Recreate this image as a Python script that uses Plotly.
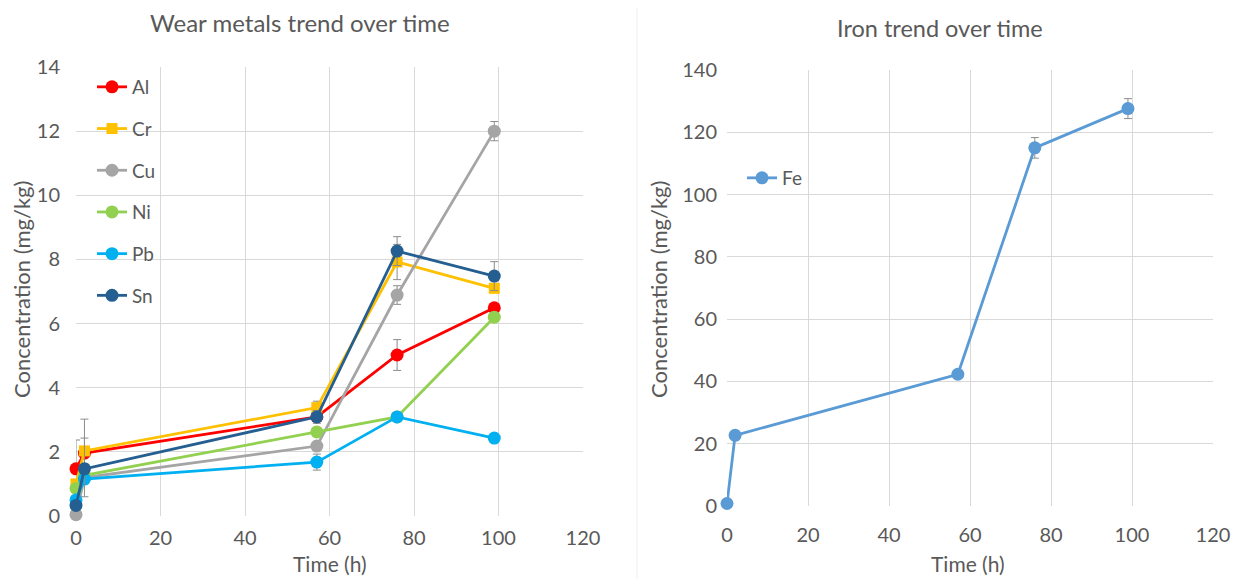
import plotly.graph_objects as go

# ---- data ----
time_h = [0, 2, 57, 76, 99]
metals = ["Al", "Cr", "Cu", "Ni", "Pb", "Sn"]
al = [1.47, 1.96, 3.09, 5.02, 6.49]
cr = [1.0, 2.03, 3.38, 7.92, 7.10]
cu = [0.04, 1.20, 2.18, 6.89, 12.0]
ni = [0.86, 1.27, 2.62, 3.09, 6.20]
pb = [0.50, 1.15, 1.68, 3.09, 2.43]
sn = [0.33, 1.47, 3.09, 8.26, 7.48]
al_err = [0.9, 0.0, 0.0, 0.48, 0.0]
cr_err = [0.0, 0.4, 0.2, 0.55, 0.0]
cu_err = [0.0, 0.0, 0.0, 0.29, 0.3]
ni_err = [0.0, 0.0, 0.0, 0.0, 0.1]
pb_err = [0.0, 0.0, 0.25, 0.0, 0.0]
sn_err = [0.0, 1.55, 0.2, 0.45, 0.45]
sn_err_minus = [0.0, 0.87, 0.2, 0.45, 0.45]
fe = [0.8, 22.7, 42.3, 115.0, 127.6]
fe_err = [0.0, 0.0, 0.0, 3.3, 3.2]

colors = ["#FF0000", "#FFC000", "#A5A5A5", "#92D050", "#00B0F0", "#255E91"]
symbols = ["circle", "square", "circle", "circle", "circle", "circle"]
fe_color = "#5B9BD5"

series = [al, cr, cu, ni, pb, sn]
errs = [al_err, cr_err, cu_err, ni_err, pb_err, sn_err]
errs_minus = [al_err, cr_err, cu_err, ni_err, pb_err, sn_err_minus]

FONT = "Lato"
TXT = "#595959"
GRID = "#D9D9D9"

fig = go.Figure()
for name, ys, es, em, col, sym in zip(metals, series, errs, errs_minus, colors, symbols):
    fig.add_trace(go.Scatter(
        x=time_h, y=ys, name=name, mode="lines+markers", cliponaxis=False,
        line=dict(color=col, width=2.8),
        marker=dict(color=col, size=13 if sym == "circle" else 11, symbol=sym),
        error_y=dict(type="data", array=es, arrayminus=em, symmetric=False, visible=True,
                     color="#8C8C8C", thickness=1, width=4),
        xaxis="x", yaxis="y", legend="legend", legendgroup=name,
    ))

fig.add_trace(go.Scatter(
    x=time_h, y=fe, name="Fe", mode="lines+markers", cliponaxis=False,
    line=dict(color=fe_color, width=2.8),
    marker=dict(color=fe_color, size=13),
    error_y=dict(type="data", array=fe_err, visible=True, color="#8C8C8C",
                 thickness=1, width=4),
    xaxis="x2", yaxis="y2", legend="legend2",
))

# page body adds an 8px offset; figure is placed to compensate
OFF = 8
W, H = 1250 - 2 * OFF, 579 - OFF
def px_x(p):
    return (p - OFF) / W
def px_y(p):
    return 1 - (p - OFF) / H

axis_common = dict(showgrid=True, gridcolor=GRID, gridwidth=1, zeroline=False,
                   showline=False, ticks="", automargin=False,
                   tickfont=dict(family=FONT, size=20, color=TXT), mirror=False)

fig.update_layout(
    width=W, height=H,
    margin=dict(l=0, r=0, t=0, b=0, autoexpand=False),
    paper_bgcolor="white", plot_bgcolor="white",
    font=dict(family=FONT, color=TXT),
    showlegend=True,
    xaxis=dict(domain=[px_x(76), px_x(583)], range=[0, 120], dtick=20,
               anchor="y", ticklabelstandoff=8, **axis_common),
    yaxis=dict(domain=[px_y(516), px_y(67)], range=[0, 14], dtick=2,
               anchor="x", ticklabelstandoff=15, **axis_common),
    xaxis2=dict(domain=[px_x(727), px_x(1213)], range=[0, 120], dtick=20,
                anchor="y2", ticklabelstandoff=15, **axis_common),
    yaxis2=dict(domain=[px_y(506), px_y(70)], range=[0, 140], dtick=20,
                anchor="x2", ticklabelstandoff=9, **axis_common),
    legend=dict(x=px_x(92), y=px_y(68), xanchor="left", yanchor="top",
                bgcolor="rgba(0,0,0,0)", font=dict(family=FONT, size=19, color=TXT),
                tracegroupgap=14, itemwidth=30),
    legend2=dict(x=px_x(742), y=px_y(159), xanchor="left", yanchor="top",
                 bgcolor="rgba(0,0,0,0)", font=dict(family=FONT, size=19, color=TXT),
                 itemwidth=30),
    annotations=[
        dict(text="Wear metals trend over time", x=px_x(300), y=px_y(22), xref="paper", yref="paper",
             showarrow=False, font=dict(family=FONT, size=24, color=TXT), xanchor="center", yanchor="middle"),
        dict(text="Iron trend over time", x=px_x(940), y=px_y(28), xref="paper", yref="paper",
             showarrow=False, font=dict(family=FONT, size=23.5, color=TXT), xanchor="center", yanchor="middle"),
        dict(text="Concentration (mg/kg)", x=px_x(21), y=px_y(290), xref="paper", yref="paper",
             showarrow=False, textangle=-90, font=dict(family=FONT, size=22, color=TXT),
             xanchor="center", yanchor="middle"),
        dict(text="Concentration (mg/kg)", x=px_x(658), y=px_y(290), xref="paper", yref="paper",
             showarrow=False, textangle=-90, font=dict(family=FONT, size=22, color=TXT),
             xanchor="center", yanchor="middle"),
        dict(text="Time (h)", x=px_x(330), y=px_y(563), xref="paper", yref="paper",
             showarrow=False, font=dict(family=FONT, size=21, color=TXT), xanchor="center", yanchor="middle"),
        dict(text="Time (h)", x=px_x(968), y=px_y(563), xref="paper", yref="paper",
             showarrow=False, font=dict(family=FONT, size=21, color=TXT), xanchor="center", yanchor="middle"),
    ],
    shapes=[
        dict(type="line", xref="paper", yref="paper", x0=px_x(637), x1=px_x(637), y0=0, y1=1,
             line=dict(color="#EFEFEF", width=1)),
    ],
)

fig.write_html("out.html")
